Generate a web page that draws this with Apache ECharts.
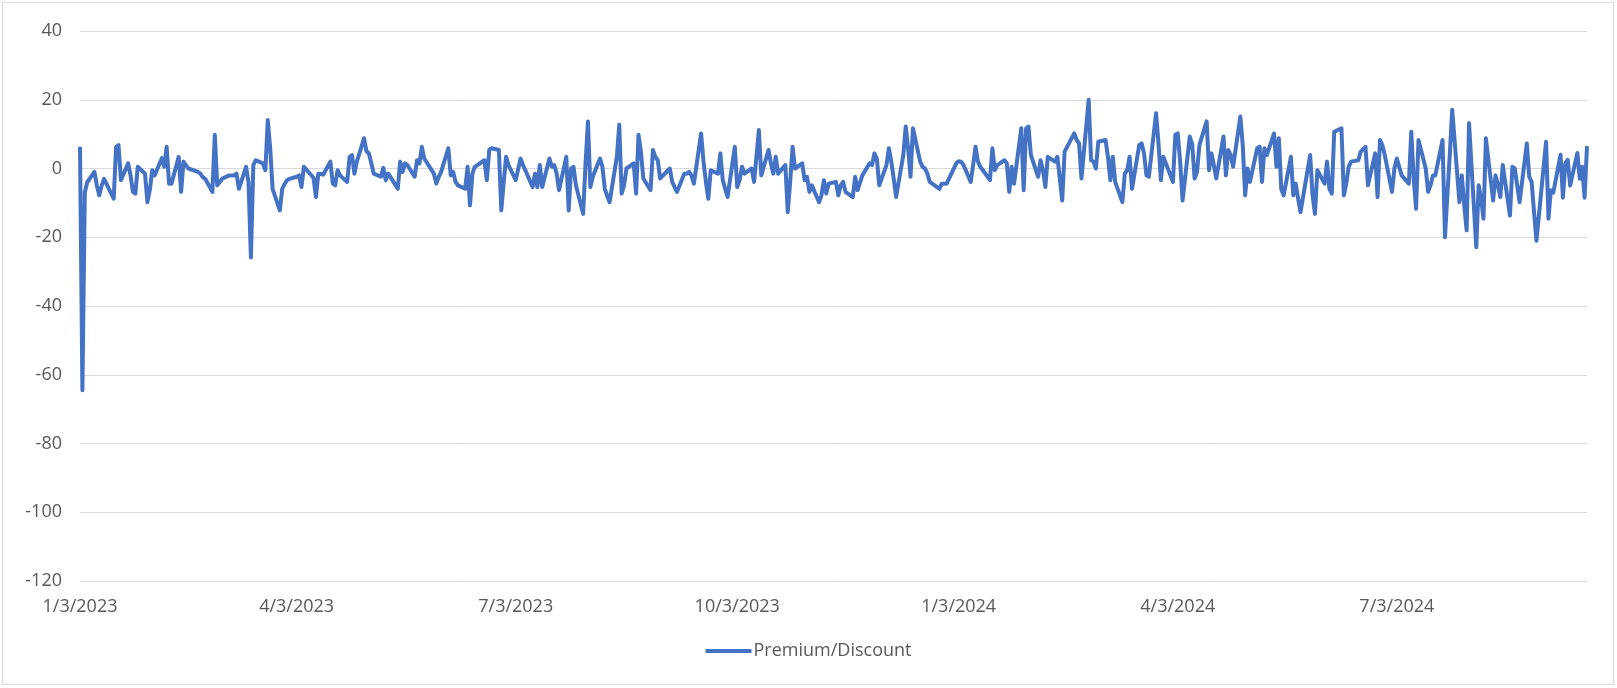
<!DOCTYPE html>
<html>
<head>
<meta charset="utf-8">
<script src="https://cdn.jsdelivr.net/npm/echarts@6/dist/echarts.min.js"></script>
<style>
html,body{margin:0;padding:0;background:#fff;}
#chart{position:absolute;left:0;top:0;width:1617px;height:688px;}
#frame{position:absolute;left:2px;top:2px;width:1610px;height:681px;border:1px solid #d9d9d9;pointer-events:none;}
</style>
</head>
<body>
<div id="chart"></div>
<div id="frame"></div>
<script>
// Trading-day series of Premium/Discount values.
const seriesName = 'Premium/Discount';
const startDate = '2023-01-03';
const marketHolidays = ['2023-01-16','2023-02-20','2023-04-07','2023-05-29','2023-06-19','2023-07-04','2023-09-04','2023-11-23','2023-12-25','2024-01-01','2024-01-15','2024-02-19','2024-03-29','2024-05-27','2024-06-19','2024-07-04','2024-09-02'];
const xTickLabels = ['2023-01-03','2023-04-03','2023-07-03','2023-10-03','2024-01-03','2024-04-03','2024-07-03'];
const yTicks = [-120,-100,-80,-60,-40,-20,0,20,40];

// Jan 3 - Feb 17, 2023
const pd01 = [6.3,-64.5,-7,-4,-1,-5,-7.8,-5,-3,-8.8,6.3,6.8,-3.4,1.5,-2,-6.8,-7.3,0.5,-1.5,-9.8,-6.3,-0.5,-2,3,0.5,6.3,-4.4,-4.4,3.4,-6.8,2,1,0];
// Feb 21 - Apr 10, 2023
const pd02 = [-1,-1.5,-2.5,-3,-6.8,9.8,-4.9,-4,-3,-2,-2,-2,-1.5,-5.9,0.5,-4,-25.9,1,2.4,1.5,-0.5,14.1,5.9,-5.9,-12.2,-5.9,-4.5,-3.4,-3,-2.4,-2,-5.4,0.5,-2.7];
// Apr 11 - May 31, 2023
const pd03 = [-8.3,-1.5,-1.6,-1.8,2,-4.4,-4.9,-0.5,-2,-3.9,3.4,3.9,-1.5,2,8.8,5,4.4,1.5,-1.5,-2.4,0.2,-3.4,-1.5,-2.5,-5.9,2,-1,1.5,1,-2.4,2.4,1.5,6.3,2.9,-1.5,-4.4];
// Jun 1 - Jul 21, 2023
const pd04 = [-2.5,-1,5.9,-2,-1,-3.9,-4.9,-5.9,0.5,-10.7,-1.5,0.5,2.4,-3.4,5.4,5.9,5.4,-12.2,-4,3.4,1,-3.4,2.9,1,-0.5,-5.4,-1.5,-5.4,1,-5.4,2.9,0.5,1,-1.5,-6.3];
// Jul 24 - Sep 11, 2023
const pd05 = [3.4,-12.2,0,0.5,-4.9,-13.2,1.5,13.7,-5.4,-2.4,2.9,0.5,-5.9,-8,-9.8,3.4,12.7,-7.3,-4.9,0,1.5,-7.3,9.8,4.9,-2.9,-6.3,5.4,3.4,2.4,-2.9,0,-3.9,-5.4,-6.8,-1.5];
// Sep 12 - Nov 2, 2023
const pd06 = [-1.5,-1,-2,-4.4,10.2,2,-3.9,-8.8,-0.5,-1.5,4.4,-3.4,-5.9,-8.3,6.3,-5.4,-3.4,0.5,-1.5,0,-3.9,3.4,11.2,-2,5.4,1.5,-1.5,3.4,-1.5,1,-12.7,-3.9,6.3,0,1.5,-3.4,-2.4,-6.8];
// Nov 3 - Dec 22, 2023
const pd07 = [-4.9,-9.8,-7.8,-3.4,-7.3,-4.4,-3.9,-7.8,-4.9,-3.9,-6.8,-8.3,-2.4,-6.3,-2,1.5,1,4.4,2.9,-4.9,1,5.9,2,-2.9,-8.3,3.9,12.2,5.9,-2.4,11.7,2,0.5,0,-1.5,-3.9];
// Dec 26, 2023 - Feb 12, 2024
const pd08 = [-5.9,-4.4,-4.4,-4.4,1.5,2.1,2,1,-3.9,1,6.3,2,0.5,-3.4,5.9,-0.5,1,2.4,1.5,-6.8,0.5,-4.4,11.7,-6.3,11.7,12.2,3.9,-2.4,2.4,-0.5,-5.4,3.4,2];
// Feb 13 - Apr 3, 2024
const pd09 = [3.4,-2.9,-9.3,4.9,10.2,8.3,7.3,-2.9,20,2.4,2,0,7.8,8.3,3.4,-3.4,3.4,-3.9,-9.8,-1.5,-0.5,3.4,-5.9,6.8,7.3,4.4,-2,-2.4,16.1,7.3,-3.4,3.4,-3.9,9.8,10.2];
// Apr 4 - May 24, 2024
const pd10 = [2,-9.3,9.3,7,-2.9,-1,6.8,13.7,-0.5,4.4,1,-2.9,9.3,-2,5.4,3.9,0.5,15.1,6.8,-7.8,0,-3.9,5.9,6.3,-3.9,5.9,3.9,10.2,0.5,8.8,-6,-7.8,3.4,-7.8,-4.4,-8.8,-12.7];
// May 28 - Jul 15, 2024
const pd11 = [3.9,-7.8,-13.2,-0.5,-4.4,2,-5.9,-7.3,10.7,11.7,-7.8,-4.4,0.5,2,2.4,4.9,6.3,-4.9,4.4,-8.3,8.3,6.8,3.9,-6.8,0,2.9,-2,-4.4,10.7,-2.9,-11.7,8.3,0];
// Jul 16 - Sep 4, 2024
const pd12 = [-6.8,-4.9,-2,-2,8.3,-20,-7.8,3.9,17.1,-9.8,-2,-10.7,-18,13.2,-22.9,-4.9,-8.8,-14.6,8.8,-9.3,-2,-4.9,-8.3,1,-13.7,0.5,0,-4.9,-9.8,7.3,-2.4,-3.9,-12.7,-21,7.8,-14.6];
// Sep 5 - Sep 20, 2024
const pd13 = [-6.3,-7,4,-8.5,1.5,2.5,-5,4.5,-3,0.5,-8.5,6.5];

const values = [].concat(pd01,pd02,pd03,pd04,pd05,pd06,pd07,pd08,pd09,pd10,pd11,pd12,pd13);

function toTs(s){const p=s.split('-');return Date.UTC(+p[0],+p[1]-1,+p[2]);}
function isoOf(ts){const d=new Date(ts);return d.getUTCFullYear()+'-'+String(d.getUTCMonth()+1).padStart(2,'0')+'-'+String(d.getUTCDate()).padStart(2,'0');}
const DAY=86400000;
const holidaySet=new Set(marketHolidays);
const tradingDays=[];
for(let t=toTs(startDate); tradingDays.length<values.length; t+=DAY){
  const wd=new Date(t).getUTCDay();
  if(wd===0||wd===6) continue;
  if(holidaySet.has(isoOf(t))) continue;
  tradingDays.push(t);
}
const data = values.map((v,i)=>[tradingDays[i], v]);

const chart = echarts.init(document.getElementById('chart'), null, {renderer:'canvas'});
const font = 'Open Sans';
chart.setOption({
  animation:false,
  backgroundColor:'#ffffff',
  grid:{left:80, right:30, top:31, bottom:107},
  xAxis:{
    type:'value',
    min:tradingDays[0],
    max:tradingDays[tradingDays.length-1],
    axisLine:{show:true, lineStyle:{color:'#d9d9d9', width:1}},
    axisTick:{show:false},
    splitLine:{show:false},
    axisLabel:{
      customValues: xTickLabels.map(toTs),
      formatter:function(v){const d=new Date(v);return (d.getUTCMonth()+1)+'/'+d.getUTCDate()+'/'+d.getUTCFullYear();},
      color:'#595959', fontSize:18, fontFamily:font, margin:17
    }
  },
  yAxis:{
    type:'value',
    min:yTicks[0], max:yTicks[yTicks.length-1], interval:20,
    axisLine:{show:false}, axisTick:{show:false},
    splitLine:{lineStyle:{color:'#d9d9d9', width:1}},
    axisLabel:{color:'#595959', fontSize:18, fontFamily:font, margin:18}
  },
  legend:{
    bottom:23, left:'center',
    icon:'rect',
    itemWidth:46, itemHeight:4, itemGap:10,
    textStyle:{color:'#595959', fontSize:18, fontFamily:font, padding:[0,0,0,-3]},
    data:[seriesName]
  },
  series:[{
    name:seriesName,
    type:'line',
    data:data,
    symbol:'none',
    showSymbol:false,
    smooth:false,
    lineStyle:{color:'#4472C4', width:4, join:'round'},
    itemStyle:{color:'#4472C4'}
  }]
});
</script>
</body>
</html>
